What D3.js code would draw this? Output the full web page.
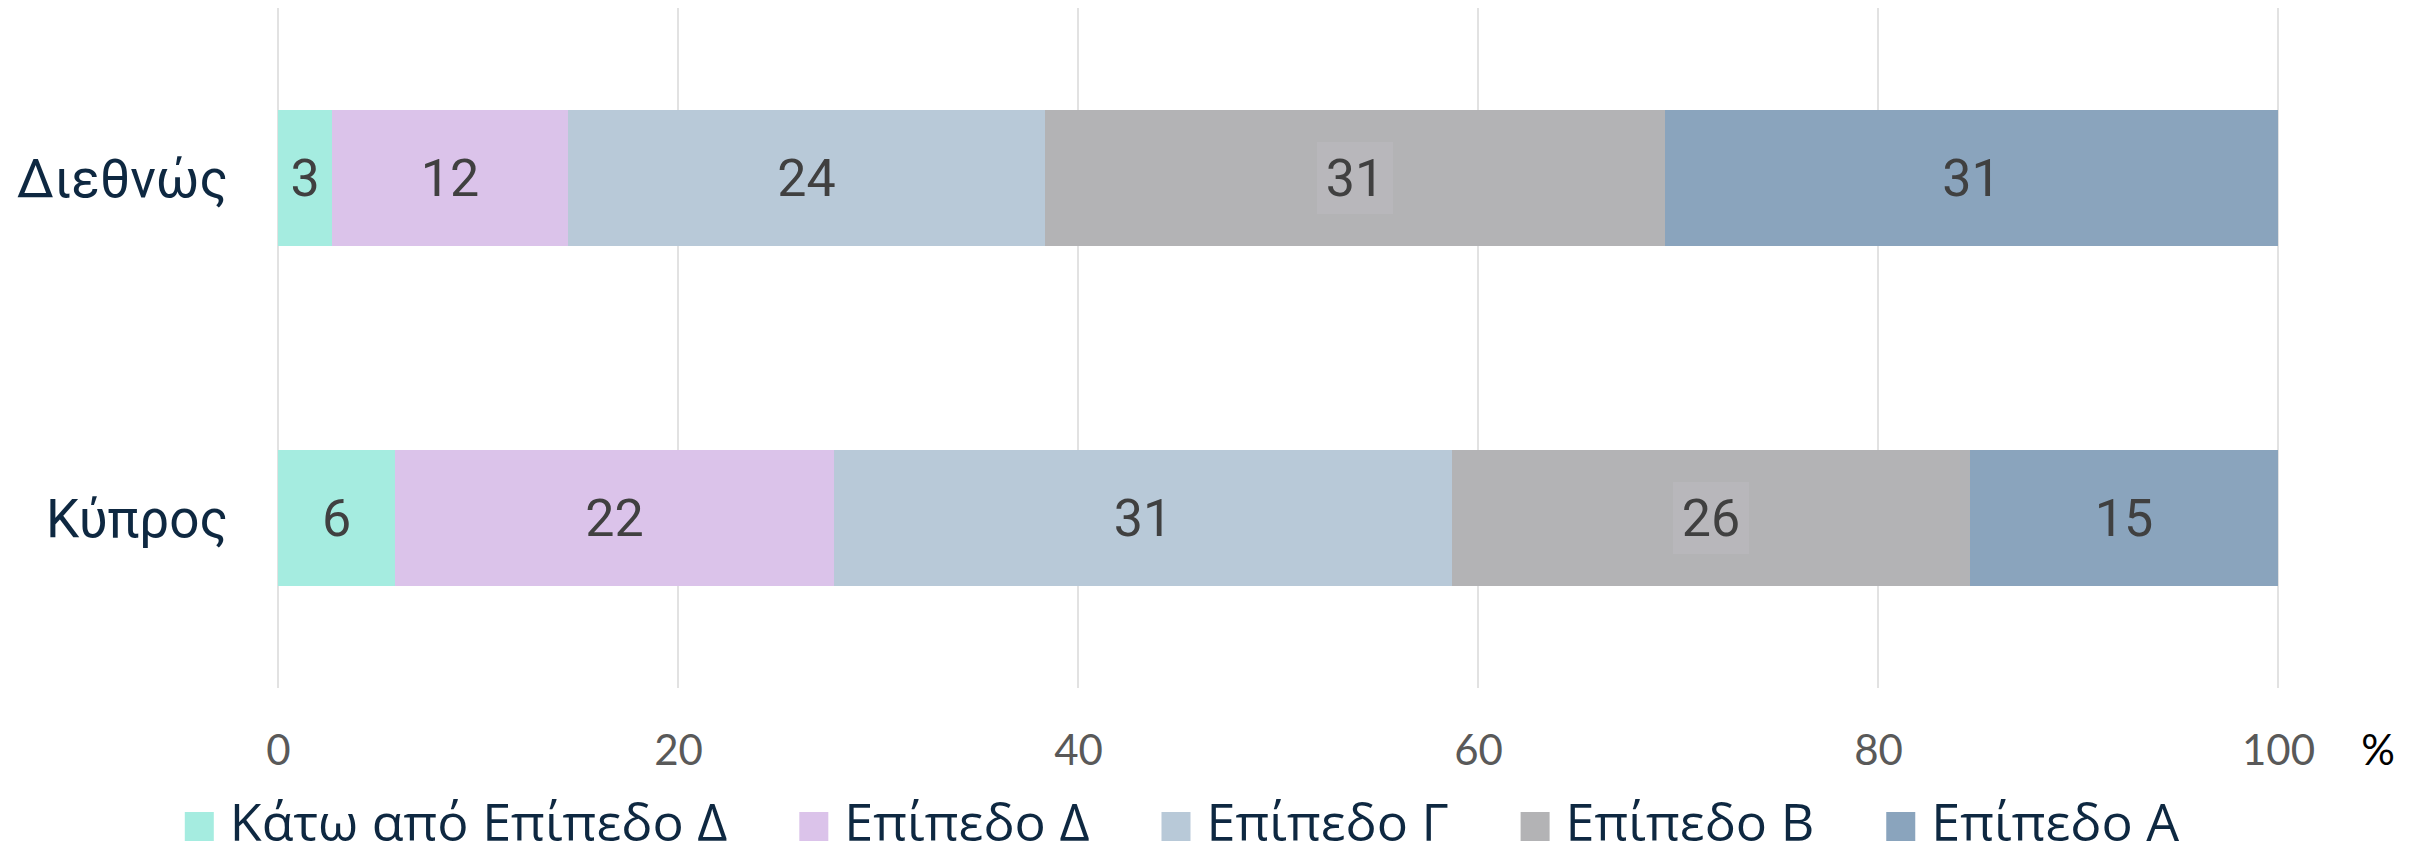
<!DOCTYPE html>
<html>
<head>
<meta charset="utf-8">
<script src="https://cdn.jsdelivr.net/npm/d3@7"></script>
<style>
  html, body { margin: 0; padding: 0; background: #ffffff; }
  svg { display: block; }
</style>
</head>
<body>
<svg id="chart" width="2420" height="856"></svg>
<script>
// ---- data ----
const categories = ["Διεθνώς", "Κύπρος"];
const seriesNames = ["Κάτω από Επίπεδο Δ", "Επίπεδο Δ", "Επίπεδο Γ", "Επίπεδο Β", "Επίπεδο Α"];
const seriesColors = ["#A5ECE0", "#DBC3EA", "#B8C9D8", "#B3B3B5", "#8AA4BD"];
const valuesBelowD = [2.7, 5.85];
const valuesD = [11.8, 21.95];
const valuesC = [23.85, 30.9];
const valuesB = [31.0, 25.9];
const valuesA = [30.65, 15.4];
const tickValues = [0, 20, 40, 60, 80, 100];
const axisUnit = "%";

const seriesValues = [valuesBelowD, valuesD, valuesC, valuesB, valuesA];

// ---- layout ----
const svg = d3.select("#chart");
const x = d3.scaleLinear().domain([0, 100]).range([278, 2278]);
const y = d3.scaleBand().domain(categories).range([8, 688]).paddingInner(0.6).paddingOuter(0.3);
const gridTop = 8, gridBottom = 688;

// gridlines
svg.append("g").selectAll("line").data(tickValues).join("line")
  .attr("x1", d => x(d)).attr("x2", d => x(d))
  .attr("y1", gridTop).attr("y2", gridBottom)
  .attr("stroke", "#d9d9d9").attr("stroke-width", 1.5);

// stack data
const rows = categories.map((c, i) => {
  const r = { cat: c };
  seriesNames.forEach((s, j) => r[s] = seriesValues[j][i]);
  return r;
});
const stacked = d3.stack().keys(seriesNames)(rows);

const fmt = d3.format(".0f");

const layers = svg.append("g").selectAll("g").data(stacked).join("g")
  .attr("fill", (d, i) => seriesColors[i]);

layers.selectAll("rect").data(d => d).join("rect")
  .attr("x", d => x(d[0]))
  .attr("width", d => x(d[1]) - x(d[0]))
  .attr("y", d => y(d.data.cat))
  .attr("height", y.bandwidth());

// data labels
const labelG = svg.append("g");
stacked.forEach((layer, li) => {
  layer.forEach(d => {
    const cx = (x(d[0]) + x(d[1])) / 2;
    const cy = y(d.data.cat) + y.bandwidth() / 2;
    const txt = fmt(d[1] - d[0]);
    if (li === 3) {
      labelG.append("rect")
        .attr("x", cx - 12 * txt.length - 14)
        .attr("y", cy - 36)
        .attr("width", 24 * txt.length + 28)
        .attr("height", 72)
        .attr("fill", "#B8B7BB");
    }
    labelG.append("text")
      .attr("x", cx).attr("y", cy)
      .attr("dy", "0.355em")
      .attr("text-anchor", "middle")
      .attr("font-family", "Roboto")
      .attr("font-size", 52)
      .attr("fill", "#404040")
      .text(txt);
  });
});

// category labels
svg.append("g").selectAll("text").data(categories).join("text")
  .attr("x", 228)
  .attr("y", d => y(d) + y.bandwidth() / 2)
  .attr("dy", "0.36em")
  .attr("text-anchor", "end")
  .attr("font-family", "Roboto")
  .attr("font-size", 53)
  .attr("fill", "#0E2841")
  .text(d => d);

// x axis tick labels
const xAxis = d3.axisBottom(x).tickValues(tickValues).tickSize(0).tickPadding(0).tickFormat(d3.format("d"));
const axG = svg.append("g").attr("transform", "translate(0,765)").call(xAxis);
axG.select(".domain").remove();
axG.selectAll("text")
  .attr("y", 0).attr("dy", 0)
  .attr("font-family", "Lato")
  .attr("font-size", 42)
  .attr("fill", "#595959");

svg.append("text")
  .attr("x", 2378).attr("y", 765)
  .attr("text-anchor", "middle")
  .attr("font-family", "Lato")
  .attr("font-size", 42)
  .attr("fill", "#000000")
  .text(axisUnit);

// legend
const legend = svg.append("g");
const items = legend.selectAll("g").data(seriesNames).join("g");
items.append("rect")
  .attr("width", 29).attr("height", 29)
  .attr("y", 812)
  .attr("fill", (d, i) => seriesColors[i]);
items.append("text")
  .attr("x", 45).attr("y", 841)
  .attr("font-family", "Open Sans")
  .attr("font-size", 52)
  .attr("fill", "#0E2841")
  .text(d => d);
let widths = [];
items.each(function() { widths.push(45 + d3.select(this).select("text").node().getComputedTextLength()); });
const gap = 72;
const total = d3.sum(widths) + gap * (widths.length - 1);
let cur = 1182 - total / 2;
items.each(function(d, i) {
  d3.select(this).attr("transform", `translate(${cur},0)`);
  cur += widths[i] + gap;
});
</script>
</body>
</html>
